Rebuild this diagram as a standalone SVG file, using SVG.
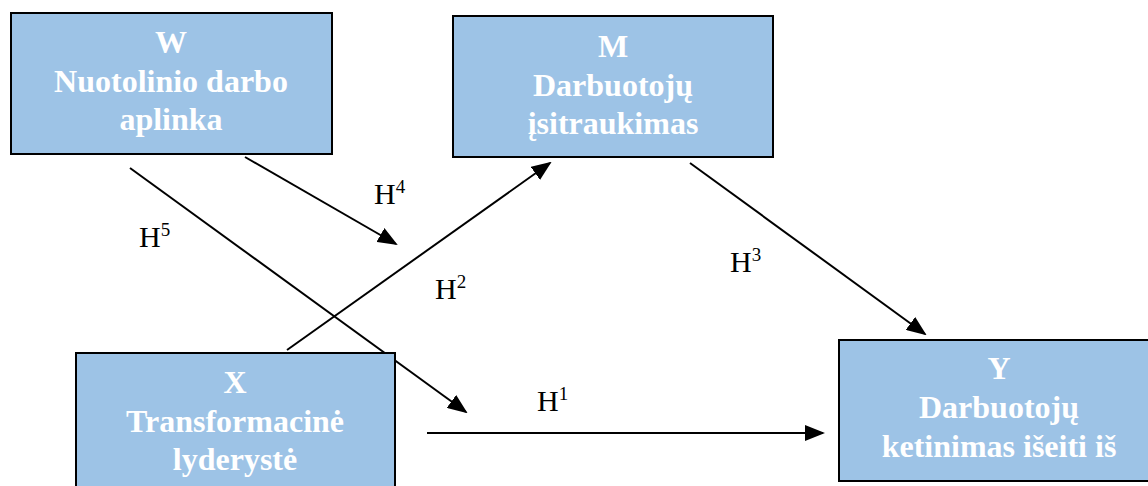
<svg xmlns="http://www.w3.org/2000/svg" width="1148" height="486" viewBox="0 0 1148 486">
<style>
.box{fill:#9dc3e6;stroke:#000;stroke-width:2}
.bt{font-family:"Liberation Serif","Times New Roman",serif;font-weight:bold;font-size:32px;fill:#fff;text-anchor:middle}
.lbl{font-family:"Liberation Serif","Times New Roman",serif;font-size:30px;fill:#000}
.sup{font-size:19px}
.edge{stroke:#000;stroke-width:2;fill:none;marker-end:url(#ah)}
</style>
<defs>
<marker id="ah" markerWidth="10" markerHeight="8" refX="9" refY="4" orient="auto" markerUnits="strokeWidth">
<path d="M0,0 L10,4 L0,8 Z" fill="#000"/>
</marker>
</defs>
<g id="connectors">
<line class="edge" x1="130" y1="168" x2="466" y2="412"/>
<line class="edge" x1="245" y1="157" x2="396" y2="244"/>
<line class="edge" x1="287" y1="350" x2="550" y2="163"/>
<line class="edge" x1="690" y1="163" x2="925" y2="334"/>
<line class="edge" x1="427" y1="433" x2="823" y2="433"/>
</g>
<g id="labels">
<text class="lbl" x="374" y="204">H<tspan class="sup" dy="-11">4</tspan></text>
<text class="lbl" x="139" y="247">H<tspan class="sup" dy="-11">5</tspan></text>
<text class="lbl" x="435" y="299">H<tspan class="sup" dy="-11">2</tspan></text>
<text class="lbl" x="730" y="272">H<tspan class="sup" dy="-11">3</tspan></text>
<text class="lbl" x="537" y="411">H<tspan class="sup" dy="-11">1</tspan></text>
</g>
<g id="node-W">
<rect class="box" x="11" y="13" width="321" height="141"/>
<text class="bt" x="171" y="53">W</text>
<text class="bt" x="171" y="92">Nuotolinio darbo</text>
<text class="bt" x="171" y="130">aplinka</text>
</g>
<g id="node-M">
<rect class="box" x="453" y="16" width="320" height="141"/>
<text class="bt" x="613" y="57">M</text>
<text class="bt" x="613" y="96">Darbuotojų</text>
<text class="bt" x="613" y="134">įsitraukimas</text>
</g>
<g id="node-X">
<rect class="box" x="76" y="353" width="319" height="141"/>
<text class="bt" x="235" y="393">X</text>
<text class="bt" x="235" y="432">Transformacinė</text>
<text class="bt" x="235" y="470">lyderystė</text>
</g>
<g id="node-Y">
<rect class="box" x="839" y="340" width="321" height="141"/>
<text class="bt" x="999" y="379">Y</text>
<text class="bt" x="999" y="418">Darbuotojų</text>
<text class="bt" x="999" y="457">ketinimas išeiti iš</text>
</g>
</svg>
